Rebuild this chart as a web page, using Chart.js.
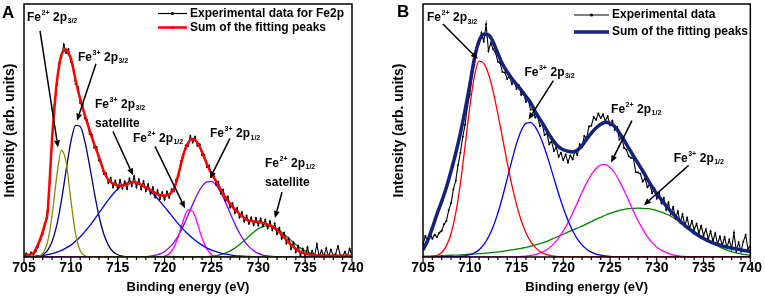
<!DOCTYPE html>
<html><head><meta charset="utf-8">
<script src="https://cdn.jsdelivr.net/npm/chart.js@4.4.1/dist/chart.umd.min.js"></script>
<style>
html,body{margin:0;padding:0;background:#fff;width:765px;height:302px;overflow:hidden}
canvas{position:absolute;top:0}
#cA{left:0;width:383px;height:302px}
#cB{left:383px;width:382px;height:302px}
</style></head><body>
<canvas id="cA" width="383" height="302"></canvas>
<canvas id="cB" width="382" height="302"></canvas>
<script>
const FONT = "Arial, 'Liberation Sans', Helvetica, sans-serif";
const xTickValues = [705,710,715,720,725,730,735,740];
const energyFine = Array.from({length:141},(_,i)=>705+i*0.25);
const energyCoarse = Array.from({length:71},(_,i)=>705+i*0.5);

// ---------- Panel A (0.25 eV grid) ----------
const expA = [
0.3,1.4,0.2,1.8, 0.9,2.2,4.1,6.8, 9.1,12.6,18.2,29.5, 46.1,60.3,68.2,76.8,
79.1,84.0,80.6,82.2, 77.1,75.6,68.4,67.3, 60.8,60.5,54.7,54.1, 48.6,48.3,43.2,43.5,
38.1,37.4,32.8,33.1, 29.2,31.3,27.6,30.1, 26.9,30.4,27.1,29.8, 26.9,31.0,28.1,31.9,
27.6,30.7,26.8,29.9, 26.1,28.8,25.0,27.6, 23.6,26.4,22.9,25.6, 22.6,25.9,23.4,26.8,
26.0,30.6,32.1,37.9, 39.6,44.1,43.9,47.8, 45.3,47.5,44.0,44.6, 40.2,40.4,35.6,36.2,
31.7,32.9,28.6,29.7, 25.1,26.6,22.2,23.9, 19.6,21.3,17.4,19.4, 15.6,17.7,14.0,16.3,
13.1,15.6,12.6,15.4, 12.5,15.2,12.1,14.7, 11.3,14.1,10.6,13.2, 9.1,11.5,7.2,9.6,
5.3,7.4,3.2,5.8, 1.9,4.4,0.6,3.3, 0.1,3.9,0.0,2.5, 0.2,5.1,0.3,2.6,
0.4,3.5,0.1,2.9, 0.5,1.2,4.2,0.8, 0.3,2.1,0.2,3.3, 0.4];
const sumA = [
0.5,0.6,0.8,1.1, 1.5,3,5,7.3, 10,13.3,17,31, 47,59,69,75.5,
80,81.5,82,80.5, 78.5,74.5,70,66, 62.5,59.2,56,53, 50,47.2,44.5,42,
39.5,36.6,34,32, 30.5,29.6,29,28.6, 28.3,28.2,28.2,28.4, 28.8,29.2,29.5,29.5,
29.4,29,28.5,28, 27.5,27,26.5,25.9, 25.3,24.8,24.5,24.3, 24.3,24.4,24.8,25.6,
27,29.5,33,36.8, 40.5,43,45,46.3, 46.6,46.2,45.2,43.5, 41.5,39.2,36.9,34.8,
33,31.4,30,28.2, 26.5,25,23.5,22.2, 21,19.9,18.8,17.9, 17,16.2,15.4,14.8,
14.4,14.2,14,13.95, 13.9,13.7,13.5,13.2, 12.8,12.4,12,11.4, 10.6,9.8,8.8,7.8,
6.8,5.8,4.8,4, 3.2,2.5,2,1.6, 1.3,1.1,0.9,0.8, 0.7,0.6,0.6,0.6,
0.6,0.6,0.5,0.5, 0.5,0.5,0.5,0.5, 0.5,0.5,0.5,0.5, 0.5];
// components A (0.5 eV grid, two values per eV)
const fe2p32A = [
0,0, 0,0.2, 1.4,5.7, 16.5,32, 42.1,37.4, 22.5,9.2, 2.5,0.5, 0.1,0,
0,0, 0,0, 0,0, 0,0, 0,0, 0,0, 0,0, 0,0, 0,0, 0,0, 0,0, 0,0, 0,0,
0,0, 0,0, 0,0, 0,0, 0,0, 0,0, 0,0, 0,0, 0,0, 0];
const fe3p32A = [
0,0, 0.1,0.3, 0.9,2.5, 6.1,12.6, 22.4,34.4, 45.5,52, 51.6,45.6, 36.1,25.6,
16.2,9.2, 4.7,2.1, 0.9,0.3, 0.1,0, 0,0, 0,0, 0,0, 0,0, 0,0, 0,0, 0,0,
0,0, 0,0, 0,0, 0,0, 0,0, 0,0, 0,0, 0,0, 0,0, 0];
const sat32A = [
0.1,0.15, 0.25,0.4, 0.6,0.9, 1.3,1.9, 2.6,3.6, 4.7,6.2, 8,10, 12.3,14.8,
17.4,20, 22.6,24.9, 26.9,28.4, 29.3,29.6, 29.4,28.6, 27.5,26, 24.1,22, 19.8,17.5,
15.2,13, 10.9,9.1, 7.4,5.9, 4.7,3.6, 2.7,2.1, 1.5,1.1, 0.8,0.55, 0.4,0.3,
0.2,0.15, 0.1,0.05, 0,0, 0,0, 0,0, 0,0, 0,0, 0,0, 0,0, 0,0, 0];
const fe2p12A = [
0,0, 0,0, 0,0, 0,0, 0,0, 0,0, 0,0, 0,0, 0,0, 0,0, 0,0, 0,0, 0,0, 0,0,
0,0.1, 0.3,1.3, 3.8,8.5, 14.5,18.6, 18.1,13.3, 7.4,3.2, 1,0.25, 0.05,0,
0,0, 0,0, 0,0, 0,0, 0,0, 0,0, 0,0, 0,0, 0,0, 0,0, 0,0, 0,0, 0,0, 0];
const fe3p12A = [
0,0, 0,0, 0,0, 0,0, 0,0, 0,0, 0,0, 0,0, 0,0, 0,0, 0,0, 0,0,
0,0.1, 0.15,0.35, 0.7,1.2, 2.2,3.7, 5.8,8.7, 12.3,16.5, 20.8,24.8, 27.9,29.7,
29.9,28.4, 25.5,21.6, 17.3,13.1, 9.4,6.4, 4.1,2.5, 1.4,0.75, 0.4,0.2, 0.1,0,
0,0, 0,0, 0,0, 0,0, 0,0, 0,0, 0,0, 0];
const sat12A = [
0,0, 0,0, 0,0, 0,0, 0,0, 0,0, 0,0, 0,0, 0,0, 0,0, 0,0, 0,0, 0,0, 0,0,
0,0, 0,0, 0,0, 0,0, 0,0,
0.1,0.15, 0.3,0.55, 0.9,1.5, 2.4,3.5, 4.9,6.5, 8.2,9.8, 11.2,12.1, 12.4,12.1,
11.2,9.8, 8.2,6.5, 4.9,3.5, 2.4,1.5, 0.9,0.55, 0.3,0.15, 0.1,0.05, 0,0, 0];

// ---------- Panel B ----------
const expB = [
4.9,8.3,6.1,9.4, 7.2,8.8,7.9,9.6, 10.4,12.9,14.2,18.5, 21.3,26.8,30.1,36.4,
41.2,47.5,52.3,59.6, 64.2,71.8,76.1,82.9, 84.3,88.6,85.2,92.0, 81.4,84.7,82.1,80.9,
77.3,76.6,73.1,72.9, 70.4,71.6,68.3,69.7, 66.4,67.9,64.1,65.2, 61.3,62.4,58.2,58.6,
55.1,55.8,51.7,52.5, 48.2,48.9,44.6,45.8, 41.9,43.4,39.6,41.2, 38.3,40.5,37.4,40.1,
38.6,41.9,40.3,44.6, 43.5,47.8,47.1,51.6, 51.9,55.3,54.2,56.7, 54.9,56.3,53.8,55.6,
52.1,53.9,50.2,51.4, 46.3,47.7,43.1,42.4, 39.8,39.2,38.9,33.6, 33.4,32.9,29.8,31.2,
27.6,28.9,25.2,27.1, 23.1,25.4,21.2,23.3, 18.7,21.6,16.9,19.8, 15.2,18.1,13.6,16.9,
12.4,15.5,11.3,14.2, 10.8,13.1,9.5,12.3, 8.4,11.0,7.1,10.2, 6.3,9.4,5.2,8.1,
4.6,7.9,3.8,6.9, 3.1,9.6,2.4,5.8, 2.2,6.1,8.7,3.1, 4.4];
const sumB = [
2.8,6.5, 11.5,17, 22,27.5, 34,41, 49,58, 68,78.5, 85.4,88, 87.8,85,
80.5,76.3, 73.2,70.5, 68.2,66, 63.5,61, 57.5,54.5, 51.5,48.3, 45.6,43.5, 42.4,41.8,
41.5,42.2, 44,46.6, 49,51, 52.5,53.3, 52.8,51.6, 49,46.2, 43,40, 37,34,
30.8,27.7, 25,22.6, 20.2,18, 16,14.1, 12.5,11, 9.6,8.4, 7.3,6.4, 5.6,5,
4.4,3.9, 3.5,3.2, 2.8,2.5, 2.2];
const fe2p32B = [
0,0.05, 0.2,0.7, 1.8,4.4, 9.2,17.3, 29.1,43.9, 59.3,71.6, 77.4,76.5, 72.3,65.5,
56.7,47.1, 37.4,28.4, 20.7,14.4, 9.6,6.2, 3.8,2.2, 1.2,0.7, 0.3,0.15, 0.1,0,
0,0, 0,0, 0,0, 0,0, 0,0, 0,0, 0,0, 0,0, 0,0, 0,0, 0,0, 0,0,
0,0, 0,0, 0,0, 0,0, 0,0, 0,0, 0,0, 0];
const fe3p32B = [
0,0, 0,0, 0,0, 0,0, 0.2,0.45, 0.9,1.65, 2.9,4.9, 7.9,12,
17.3,23.7, 30.9,38.1, 44.8,49.9, 52.8,53.1, 51.4,47.9, 43,37.3, 31.1,25, 19.4,14.5,
10.4,7.2, 4.8,3.1, 1.9,1.15, 0.7,0.4, 0.2,0.1, 0.05,0, 0,0, 0,0,
0,0, 0,0, 0,0, 0,0, 0,0, 0,0, 0,0, 0,0, 0,0, 0,0, 0,0, 0,0, 0,0, 0];
const fe2p12B = [
0,0, 0,0, 0,0, 0,0, 0,0, 0,0, 0,0, 0,0, 0,0, 0,0,
0.1,0.2, 0.3,0.6, 0.95,1.5, 2.4,3.6, 5.3,7.5, 10.3,13.6, 17.3,21.4, 25.5,29.3,
32.6,35, 36.4,36.5, 35.4,33.2, 30,26.3, 22.2,18.1, 14.3,10.9, 8,5.7, 3.9,2.6,
1.7,1.05, 0.6,0.35, 0.2,0.1, 0.05,0, 0,0, 0,0, 0,0, 0,0, 0,0, 0];
const fe3p12B = [
0.3,0.35, 0.4,0.45, 0.5,0.6, 0.7,0.75, 0.8,0.95, 1.1,1.2, 1.3,1.45, 1.65,1.8,
2.0,2.25, 2.5,2.8, 3.1,3.45, 3.8,4.25, 4.7,5.3, 5.9,6.6, 7.4,8.2, 9.0,9.8,
10.6,11.4, 12.2,13.1, 14.0,14.9, 15.7,16.5, 17.2,17.8, 18.4,18.8, 19.1,19.25, 19.3,19.25,
19.1,18.8, 18.3,17.7, 17.0,16.1, 15.0,13.8, 12.6,11.4, 10.1,8.8, 7.6,6.4, 5.3,4.4,
3.5,2.7, 2.1,1.6, 1.2,0.9, 0.7];

const pts = (xs, ys) => ys.map((y,i)=>({x:xs[i], y}));

function arrow(ctx, x1, y1, x2, y2){
  const a = Math.atan2(y2-y1, x2-x1), L = 7, W = 3;
  const bx = x2 - L*Math.cos(a), by = y2 - L*Math.sin(a);
  ctx.lineWidth = 1.5;
  ctx.beginPath(); ctx.moveTo(x1,y1); ctx.lineTo(bx,by); ctx.stroke();
  ctx.beginPath(); ctx.moveTo(x2,y2);
  ctx.lineTo(bx + W*Math.sin(a), by - W*Math.cos(a));
  ctx.lineTo(bx - W*Math.sin(a), by + W*Math.cos(a));
  ctx.closePath(); ctx.fill();
}
function feLabel(ctx, x, y, charge, sub){
  ctx.textAlign = 'left'; ctx.textBaseline = 'alphabetic';
  ctx.font = 'bold 12px ' + FONT; ctx.fillText('Fe', x, y); x += ctx.measureText('Fe').width;
  ctx.font = 'bold 7px ' + FONT; ctx.fillText(charge, x + 0.5, y - 6); x += ctx.measureText(charge).width + 1;
  ctx.font = 'bold 12px ' + FONT; x += 3; ctx.fillText('2p', x, y); x += ctx.measureText('2p').width;
  ctx.font = 'bold 7px ' + FONT; ctx.fillText(sub, x + 0.5, y + 2.5);
}

const decor = {
  id: 'decor',
  afterDraw(chart, args, o){
    const ctx = chart.ctx, ca = chart.chartArea, xs = chart.scales.x, ys = chart.scales.y;
    ctx.save();
    ctx.strokeStyle = '#000'; ctx.fillStyle = '#000';
    ctx.lineWidth = 1.5;
    ctx.strokeRect(ca.left, ca.top, ca.right - ca.left, ca.bottom - ca.top);
    ctx.lineWidth = 1.2;
    for (let v = xs.min; v <= xs.max; v += 1){
      const px = xs.getPixelForValue(v), len = (v % 5 === 0) ? 5 : 3;
      ctx.beginPath(); ctx.moveTo(px, ca.bottom); ctx.lineTo(px, ca.bottom + len); ctx.stroke();
    }
    for (const an of o.notes){
      const tx = xs.getPixelForValue(an.e), ty = ys.getPixelForValue(an.v);
      feLabel(ctx, tx, ty, an.charge, an.sub);
      if (an.line2){ ctx.font = 'bold 12px ' + FONT; ctx.fillText(an.line2, tx, ty + 19); }
      arrow(ctx, xs.getPixelForValue(an.from[0]), ys.getPixelForValue(an.from[1]),
                 xs.getPixelForValue(an.to[0]), ys.getPixelForValue(an.to[1]));
    }
    for (const lg of o.legend){
      ctx.strokeStyle = lg.color; ctx.lineWidth = lg.w;
      ctx.beginPath(); ctx.moveTo(lg.x1, lg.y); ctx.lineTo(lg.x2, lg.y); ctx.stroke();
      if (lg.marker){ ctx.fillStyle = lg.color; ctx.beginPath(); ctx.arc((lg.x1+lg.x2)/2, lg.y, 1.6, 0, Math.PI*2); ctx.fill(); }
      ctx.fillStyle = '#000'; ctx.font = 'bold 12px ' + FONT; ctx.textBaseline = 'middle'; ctx.textAlign = 'left';
      ctx.fillText(lg.text, lg.x2 + 3, lg.y);
    }
    ctx.font = 'bold 17px ' + FONT; ctx.textBaseline = 'alphabetic'; ctx.fillStyle = '#000';
    ctx.fillText(o.letter.text, o.letter.x, o.letter.y);
    ctx.restore();
  }
};

function line(data, color, width, extra){
  return Object.assign({data, borderColor: color, backgroundColor: color, borderWidth: width,
    pointRadius: 0, fill: false, cubicInterpolationMode: 'monotone'}, extra || {});
}
function expLine(data){
  return {data, borderColor: '#000', backgroundColor: '#000', borderWidth: 1.1, pointRadius: 1,
    pointBorderWidth: 0, pointStyle: 'circle', fill: false, tension: 0};
}

function makePanel(id, datasets, yWidth, yTitlePad, rightPad, decorOpts){
  return new Chart(document.getElementById(id), {
    type: 'line',
    data: { datasets },
    plugins: [decor],
    options: {
      responsive: false, animation: false, devicePixelRatio: 1, events: [],
      layout: { padding: { top: 3, right: rightPad, left: 0, bottom: 0 } },
      plugins: { legend: { display: false }, tooltip: { enabled: false }, decor: decorOpts },
      scales: {
        x: {
          type: 'linear', min: 705, max: 740,
          afterFit: s => { s.height = 45; },
          afterBuildTicks: s => { s.ticks = xTickValues.map(v => ({ value: v })); },
          ticks: { color: '#000', font: { family: FONT, size: 14, weight: 'bold' }, padding: 3, autoSkip: false, maxRotation: 0 },
          grid: { display: false, drawTicks: false }, border: { display: false },
          title: { display: true, text: 'Binding energy (eV)', color: '#000',
                   font: { family: FONT, size: 13, weight: 'bold' }, padding: { top: 0, bottom: 7 } }
        },
        y: {
          min: 0, max: 100,
          afterFit: s => { s.width = yWidth; },
          ticks: { display: false }, grid: { display: false, drawTicks: false }, border: { display: false },
          title: { display: true, text: 'Intensity (arb. units)', color: '#000',
                   font: { family: FONT, size: 14, weight: 'bold' }, padding: { top: yTitlePad, bottom: 0 } }
        }
      }
    }
  });
}

makePanel('cA', [
  line(pts(energyFine, sumA), '#ff0000', 2.5),
  expLine(pts(energyFine, expA)),
  line(pts(energyCoarse, fe2p32A), '#8b8b00', 1.3),
  line(pts(energyCoarse, fe3p32A), '#000080', 1.3),
  line(pts(energyCoarse, sat32A), '#0000ff', 1.3),
  line(pts(energyCoarse, fe2p12A), '#ff00ff', 1.3),
  line(pts(energyCoarse, fe3p12A), '#8000ff', 1.3),
  line(pts(energyCoarse, sat12A), '#008000', 1.3)
], 24, 1.6, 31, {
  letter: { text: 'A', x: 2, y: 18 },
  legend: [
    { x1: 158, x2: 187, y: 13.5, color: '#000', w: 1.2, marker: true, text: 'Experimental data for Fe2p' },
    { x1: 158, x2: 187, y: 27.5, color: '#ff0000', w: 2.5, marker: true, text: 'Sum of the fitting peaks' }
  ],
  notes: [
    { e: 705.32, v: 93.3, charge: '2+', sub: '3/2', from: [706.71, 89.4], to: [708.63, 43.3] },
    { e: 710.76, v: 77.6, charge: '3+', sub: '3/2', from: [712.68, 76.4], to: [710.66, 53.9] },
    { e: 712.58, v: 58.9, charge: '3+', sub: '3/2', line2: 'satellite', from: [714.5, 49.6], to: [716.63, 32.3] },
    { e: 716.63, v: 45.5, charge: '2+', sub: '1/2', from: [718.98, 43.7], to: [722.18, 19.3] },
    { e: 724.85, v: 47.4, charge: '3+', sub: '1/2', from: [726.98, 46.9], to: [724.85, 31.1] },
    { e: 730.72, v: 35.6, charge: '2+', sub: '1/2', line2: 'satellite', from: [732.53, 25.6], to: [731.78, 15.4] }
  ]
});

makePanel('cB', [
  line(pts(energyCoarse, sumB), '#14217d', 3.5),
  expLine(pts(energyFine, expB)),
  line(pts(energyCoarse, fe2p32B), '#ff0000', 1.3),
  line(pts(energyCoarse, fe3p32B), '#0000ff', 1.3),
  line(pts(energyCoarse, fe2p12B), '#ff00ff', 1.3),
  line(pts(energyCoarse, fe3p12B), '#008000', 1.3)
], 40, 7.6, 13, {
  letter: { text: 'B', x: 14, y: 17 },
  legend: [
    { x1: 191, x2: 226, y: 15, color: '#000', w: 1.2, marker: true, text: 'Experimental data' },
    { x1: 191, x2: 226, y: 32, color: '#14217d', w: 3.5, marker: false, text: 'Sum of the fitting peaks' }
  ],
  notes: [
    { e: 705.43, v: 93.1, charge: '2+', sub: '3/2', from: [707.13, 92.1], to: [710.85, 78.3] },
    { e: 715.85, v: 71.7, charge: '3+', sub: '3/2', from: [718.94, 69.7], to: [716.28, 54.3] },
    { e: 725.11, v: 57.1, charge: '2+', sub: '1/2', from: [727.34, 53.9], to: [725.11, 37.4] },
    { e: 731.81, v: 37.6, charge: '3+', sub: '1/2', from: [733.4, 36.2], to: [728.62, 20.5] }
  ]
});
</script>
</body></html>
